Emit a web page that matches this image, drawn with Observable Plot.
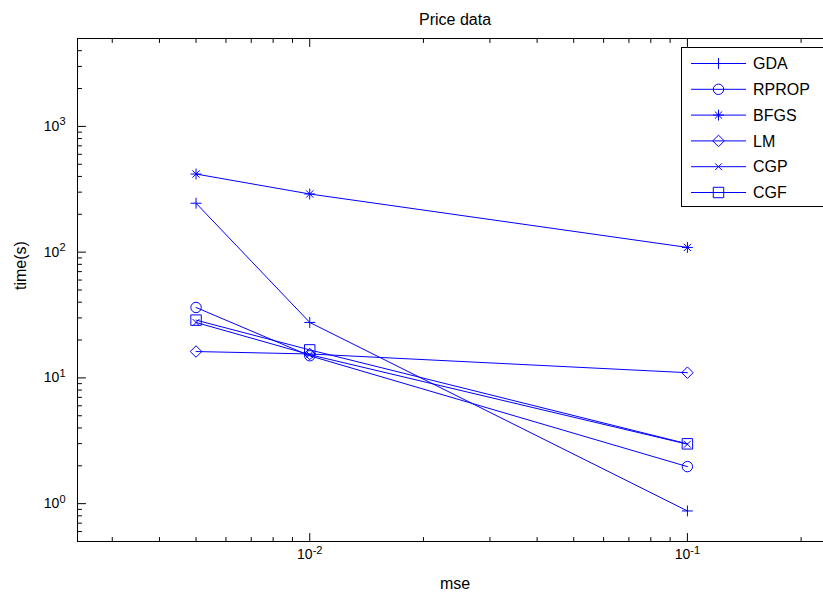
<!DOCTYPE html>
<html>
<head>
<meta charset="utf-8">
<script src="https://cdn.jsdelivr.net/npm/d3@7"></script>
<script src="https://cdn.jsdelivr.net/npm/@observablehq/plot@0.6"></script>
<style>
html, body { margin: 0; padding: 0; background: #fff; overflow: hidden; }
#wrap { position: relative; width: 823px; height: 599px; overflow: hidden; }
</style>
</head>
<body>
<div id="wrap"></div>
<script>
// ---- data ----
const mse = [0.005, 0.01, 0.1];
const seriesNames = ["GDA", "RPROP", "BFGS", "LM", "CGP", "CGF"];
const GDA   = [245, 27.6, 0.875];
const RPROP = [36.3, 15.0, 1.97];
const BFGS  = [418, 290, 109];
const LM    = [16.2, 15.5, 11.0];
const CGP   = [27.6, 15.3, 2.97];
const CGF   = [28.8, 16.7, 2.99];

const xMajor = [0.01, 0.1];
const xExp = ["-2", "-1"];
const xMinor = [0.003, 0.004, 0.005, 0.006, 0.007, 0.008, 0.009, 0.02, 0.03, 0.04, 0.05, 0.06, 0.07, 0.08, 0.09, 0.2];
const yMajor = [1, 10, 100, 1000];
const yExp = ["0", "1", "2", "3"];
const yMinor = [0.6, 0.7, 0.8, 0.9, 2, 3, 4, 5, 6, 7, 8, 9, 20, 30, 40, 50, 60, 70, 80, 90, 200, 300, 400, 500, 600, 700, 800, 900, 2000, 3000, 4000];

const titleText = "Price data";
const xLabel = "mse";
const yLabel = "time(s)";

// ---- build table ----
const valuesBySeries = [GDA, RPROP, BFGS, LM, CGP, CGF];
const rows = seriesNames.flatMap((s, k) => mse.map((m, j) => ({series: s, mse: m, time: valuesBySeries[k][j]})));

// ---- styles ----
const BLUE = "#0000ff";
const FONT = "'Liberation Sans', Arial, Helvetica, sans-serif";
const markerStyle = {
  GDA:   [{symbol: "plus", r: 3.6}],
  RPROP: [{symbol: "circle", r: 5.2}],
  BFGS:  [{symbol: "plus", r: 3.6}, {symbol: "times", r: 3.4}],
  LM:    [{symbol: "diamond2", r: 5.2}],
  CGP:   [{symbol: "times", r: 3.2}],
  CGF:   [{symbol: "square", r: 5.9}]
};

const xFmt = d => "10^" + xExp[xMajor.indexOf(d)];
const yFmt = d => "10^" + yExp[yMajor.indexOf(d)];

const dots = seriesNames.flatMap(s => markerStyle[s].map(st =>
  Plot.dot(rows.filter(d => d.series === s), {x: "mse", y: "time", symbol: st.symbol, r: st.r, stroke: BLUE, fill: "none", strokeWidth: 1})
));

// inward tick marks drawn as short vectors from the frame edges
const stick = {draw(context, l) { context.moveTo(0, 0); context.lineTo(0, -l); }};
const ticksX = (data, len, anchor, rotate) =>
  Plot.vector(data, {x: d => d, frameAnchor: anchor, length: len, rotate, anchor: "start", shape: stick, stroke: "black", strokeWidth: 1});
const ticksY = (data, len, anchor, rotate) =>
  Plot.vector(data, {y: d => d, frameAnchor: anchor, length: len, rotate, anchor: "start", shape: stick, stroke: "black", strokeWidth: 1});

const plot = Plot.plot({
  width: 837,
  height: 599,
  marginLeft: 77,
  marginRight: 5,
  marginTop: 38,
  marginBottom: 58,
  style: {fontFamily: FONT, fontSize: "14px", background: "white", color: "black", overflow: "visible", maxWidth: "none"},
  x: {type: "log", domain: [0.002427, 0.2422]},
  y: {type: "log", domain: [0.5, 5000]},
  marks: [
    Plot.line(rows, {x: "mse", y: "time", z: "series", stroke: BLUE, strokeWidth: 1}),
    ...dots,
    ticksX(xMajor, 8, "bottom", 0),
    ticksX(xMajor, 8, "top", 180),
    ticksX(xMinor, 4, "bottom", 0),
    ticksX(xMinor, 4, "top", 180),
    ticksY(yMajor, 8, "left", 90),
    ticksY(yMajor, 8, "right", -90),
    ticksY(yMinor, 4, "left", 90),
    ticksY(yMinor, 4, "right", -90),
    Plot.frame({stroke: "black"}),
    Plot.axisX(xMajor, {anchor: "bottom", tickSize: 0, tickPadding: 8, tickFormat: xFmt, label: null, fontSize: 14}),
    Plot.axisY(yMajor, {anchor: "left", tickSize: 0, tickPadding: 12, tickFormat: yFmt, label: null, fontSize: 14}),
    Plot.text([titleText], {text: d => d, frameAnchor: "top", dy: -25, fontSize: 16}),
    Plot.text([xLabel], {text: d => d, frameAnchor: "bottom", dy: 47, fontSize: 16}),
    Plot.text([yLabel], {text: d => d, frameAnchor: "left", dx: -57, rotate: -90, fontSize: 16})
  ]
});

document.getElementById("wrap").appendChild(plot);

// superscript exponents
const svg = d3.select(plot);
svg.selectAll('g[aria-label$="tick label"] text').each(function () {
  const parts = this.textContent.split("^");
  if (parts.length === 2) {
    const t = d3.select(this);
    t.text(null);
    t.append("tspan").text(parts[0]);
    t.append("tspan").attr("dy", "-0.5em").attr("font-size", "11px").text(parts[1]);
  }
});

// legend (inside axes, northeast)
const symbolMap = {plus: d3.symbolPlus, circle: d3.symbolCircle, times: d3.symbolTimes, square: d3.symbolSquare, diamond2: d3.symbolDiamond2};
const lg = svg.append("g").attr("aria-label", "legend").attr("text-anchor", "start");
lg.append("rect").attr("x", 681.5).attr("y", 47.5).attr("width", 145).attr("height", 159)
  .attr("fill", "white").attr("stroke", "black");
seriesNames.forEach((s, i) => {
  const yy = 63.5 + i * 25.8;
  lg.append("line").attr("x1", 691).attr("x2", 746).attr("y1", yy).attr("y2", yy)
    .attr("stroke", BLUE).attr("stroke-width", 1);
  markerStyle[s].forEach(st => {
    lg.append("path").attr("transform", `translate(718.5,${yy})`)
      .attr("d", d3.symbol(symbolMap[st.symbol], st.r * st.r * Math.PI)())
      .attr("fill", "none").attr("stroke", BLUE).attr("stroke-width", 1);
  });
  lg.append("text").attr("x", 753).attr("y", yy).attr("dy", "0.35em")
    .attr("font-size", 16).attr("fill", "black").text(s);
});
</script>
</body>
</html>
